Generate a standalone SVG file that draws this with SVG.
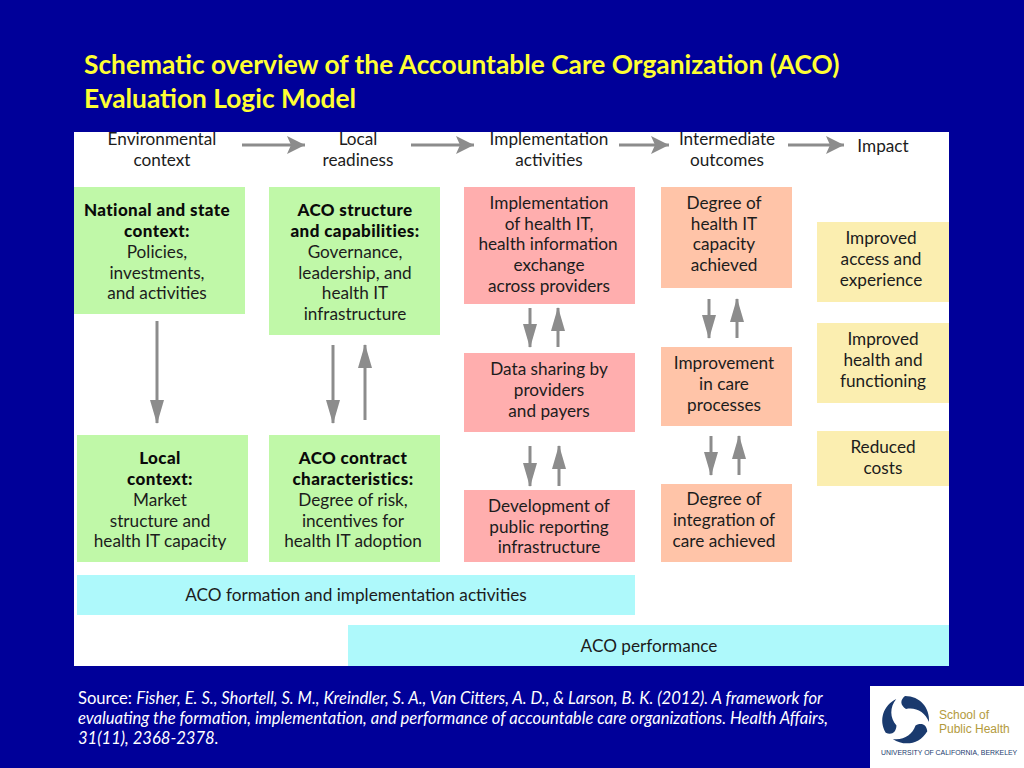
<svg xmlns="http://www.w3.org/2000/svg" width="1024" height="768" viewBox="0 0 1024 768">
<defs>
<marker id="a" markerUnits="userSpaceOnUse" markerWidth="20" markerHeight="20" refX="18" refY="9" orient="auto" viewBox="0 0 20 18"><path d="M0 0L18 9L0 18L4 9Z" fill="#8c8c8c"/></marker>
<marker id="v" markerUnits="userSpaceOnUse" markerWidth="24" markerHeight="14" refX="23" refY="7" orient="auto" viewBox="0 0 24 14"><path d="M0 0L24 7L0 14Z" fill="#8c8c8c"/></marker>
<path id="blade" d="M905 696C920 696 930 708 929 722C925 712 916 707 906 709C900 705 900 700 905 696Z" fill="#1a3a6e"/>
</defs>
<style>
.t{font-family:Lato,"Noto Sans",sans-serif;font-size:17.2px;fill:#1c1c1c;text-anchor:middle}
.b{font-weight:900;fill:#0a0a0a;font-size:17px;letter-spacing:.4px}
.h{stroke:#8c8c8c;stroke-width:3;fill:none;marker-end:url(#a)}
.c{stroke:#8c8c8c;stroke-width:3;fill:none;marker-end:url(#v)}
.title{font-family:Lato,"Noto Sans",sans-serif;font-size:26.3px;font-weight:700;fill:#ffff33}
.src{font-family:Lato,"Noto Sans",sans-serif;font-size:16.6px;fill:#fff}
.g{fill:#c0f8a8}.p{fill:#ffaeae}.o{fill:#ffc4a8}.y{fill:#fbeeb0}.u{fill:#aef9fb}
</style>
<rect width="1024" height="768" fill="#000099"/>
<g id="title"><text class="title" x="84" y="74">Schematic overview of the Accountable Care Organization (ACO)</text><text class="title" x="84" y="108">Evaluation Logic Model</text></g>
<rect id="panel" x="74" y="132" width="875" height="534" fill="#fff"/>
<g id="headers">
<text class="t" x="162" y="145">Environmental</text><text class="t" x="162" y="166">context</text>
<text class="t" x="358" y="145">Local</text><text class="t" x="358" y="166">readiness</text>
<text class="t" x="549" y="145">Implementation</text><text class="t" x="549" y="166">activities</text>
<text class="t" x="727" y="145">Intermediate</text><text class="t" x="727" y="166">outcomes</text>
<text class="t" x="883" y="152">Impact</text>
</g>
<g id="connectors">
<path class="h" d="M242 145H305"/><path class="h" d="M411 145H474"/><path class="h" d="M619 145H669"/><path class="h" d="M788 145H844"/>
<path class="c" d="M157 321V423"/><path class="c" d="M333 345V423"/><path class="c" d="M365 420V345"/>
<path class="c" d="M530 308V347"/><path class="c" d="M558 347V308"/>
<path class="c" d="M709 299V338"/><path class="c" d="M737 338V299"/>
<path class="c" d="M530 446V486"/><path class="c" d="M559 486V446"/>
<path class="c" d="M711 436V475"/><path class="c" d="M739 475V436"/>
</g>
<g id="n1"><rect class="g" x="74" y="187" width="171" height="127"/><text class="t b" x="157" y="216">National and state</text><text class="t b" x="157" y="237">context:</text><text class="t" x="157" y="258">Policies,</text><text class="t" x="157" y="279">investments,</text><text class="t" x="157" y="299">and activities</text></g>
<g id="n2"><rect class="g" x="269" y="187" width="171" height="148"/><text class="t b" x="355" y="216">ACO structure</text><text class="t b" x="355" y="237">and capabilities:</text><text class="t" x="355" y="258">Governance,</text><text class="t" x="355" y="279">leadership, and</text><text class="t" x="355" y="299">health IT</text><text class="t" x="355" y="320">infrastructure</text></g>
<g id="n3"><rect class="g" x="77" y="435" width="171" height="127"/><text class="t b" x="160" y="464">Local</text><text class="t b" x="160" y="485">context:</text><text class="t" x="160" y="506">Market</text><text class="t" x="160" y="527">structure and</text><text class="t" x="160" y="547">health IT capacity</text></g>
<g id="n4"><rect class="g" x="269" y="435" width="171" height="127"/><text class="t b" x="353" y="464">ACO contract</text><text class="t b" x="353" y="485">characteristics:</text><text class="t" x="353" y="506">Degree of risk,</text><text class="t" x="353" y="527">incentives for</text><text class="t" x="353" y="547">health IT adoption</text></g>
<g id="n5"><rect class="p" x="464" y="187" width="171" height="117"/><text class="t" x="549" y="209">Implementation</text><text class="t" x="549" y="230">of health IT,</text><text class="t" x="548" y="250">health information</text><text class="t" x="549" y="271">exchange</text><text class="t" x="549" y="292">across providers</text></g>
<g id="n6"><rect class="p" x="464" y="353" width="171" height="79"/><text class="t" x="549" y="375">Data sharing by</text><text class="t" x="549" y="396">providers</text><text class="t" x="549" y="417">and payers</text></g>
<g id="n7"><rect class="p" x="464" y="490" width="171" height="72"/><text class="t" x="549" y="512">Development of</text><text class="t" x="549" y="533">public reporting</text><text class="t" x="549" y="553">infrastructure</text></g>
<g id="n8"><rect class="o" x="661" y="187" width="131" height="101"/><text class="t" x="724" y="209">Degree of</text><text class="t" x="724" y="230">health IT</text><text class="t" x="724" y="250">capacity</text><text class="t" x="724" y="271">achieved</text></g>
<g id="n9"><rect class="o" x="661" y="347" width="131" height="79"/><text class="t" x="724" y="369">Improvement</text><text class="t" x="724" y="390">in care</text><text class="t" x="724" y="411">processes</text></g>
<g id="n10"><rect class="o" x="661" y="484" width="131" height="78"/><text class="t" x="724" y="505">Degree of</text><text class="t" x="724" y="526">integration of</text><text class="t" x="724" y="547">care achieved</text></g>
<g id="n11"><rect class="y" x="817" y="222" width="132" height="80"/><text class="t" x="881" y="244">Improved</text><text class="t" x="881" y="265">access and</text><text class="t" x="881" y="286">experience</text></g>
<g id="n12"><rect class="y" x="817" y="323" width="132" height="80"/><text class="t" x="883" y="345">Improved</text><text class="t" x="883" y="366">health and</text><text class="t" x="883" y="387">functioning</text></g>
<g id="n13"><rect class="y" x="817" y="431" width="132" height="55"/><text class="t" x="883" y="453">Reduced</text><text class="t" x="883" y="474">costs</text></g>
<g id="n14"><rect class="u" x="77" y="575" width="558" height="40"/><text class="t" x="356" y="601">ACO formation and implementation activities</text></g>
<g id="n15"><rect class="u" x="348" y="625" width="601" height="41"/><text class="t" x="649" y="652">ACO performance</text></g>
<g id="source"><text class="src" x="78" y="704">Source: <tspan font-style="italic">Fisher, E. S., Shortell, S. M., Kreindler, S. A., Van Citters, A. D., &amp; Larson, B. K. (2012). A framework for</tspan></text><text class="src" font-style="italic" x="78" y="724">evaluating the formation, implementation, and performance of accountable care organizations. Health Affairs,</text><text class="src" font-style="italic" x="78" y="744">31(11), 2368-2378.</text></g>
<g id="logo"><rect x="870" y="686" width="154" height="82" fill="#fff"/>
<use href="#blade"/><use href="#blade" transform="rotate(120 906 720)"/><use href="#blade" transform="rotate(240 906 720)"/>
<text x="939" y="719" font-family="Liberation Sans,sans-serif" font-size="12" fill="#b39a3c">School of</text><text x="939" y="733" font-family="Liberation Sans,sans-serif" font-size="12" fill="#b39a3c">Public Health</text>
<text x="881" y="755" font-family="Liberation Sans,sans-serif" font-size="6.9" fill="#1a3a6e">UNIVERSITY OF CALIFORNIA, BERKELEY</text></g>
</svg>
